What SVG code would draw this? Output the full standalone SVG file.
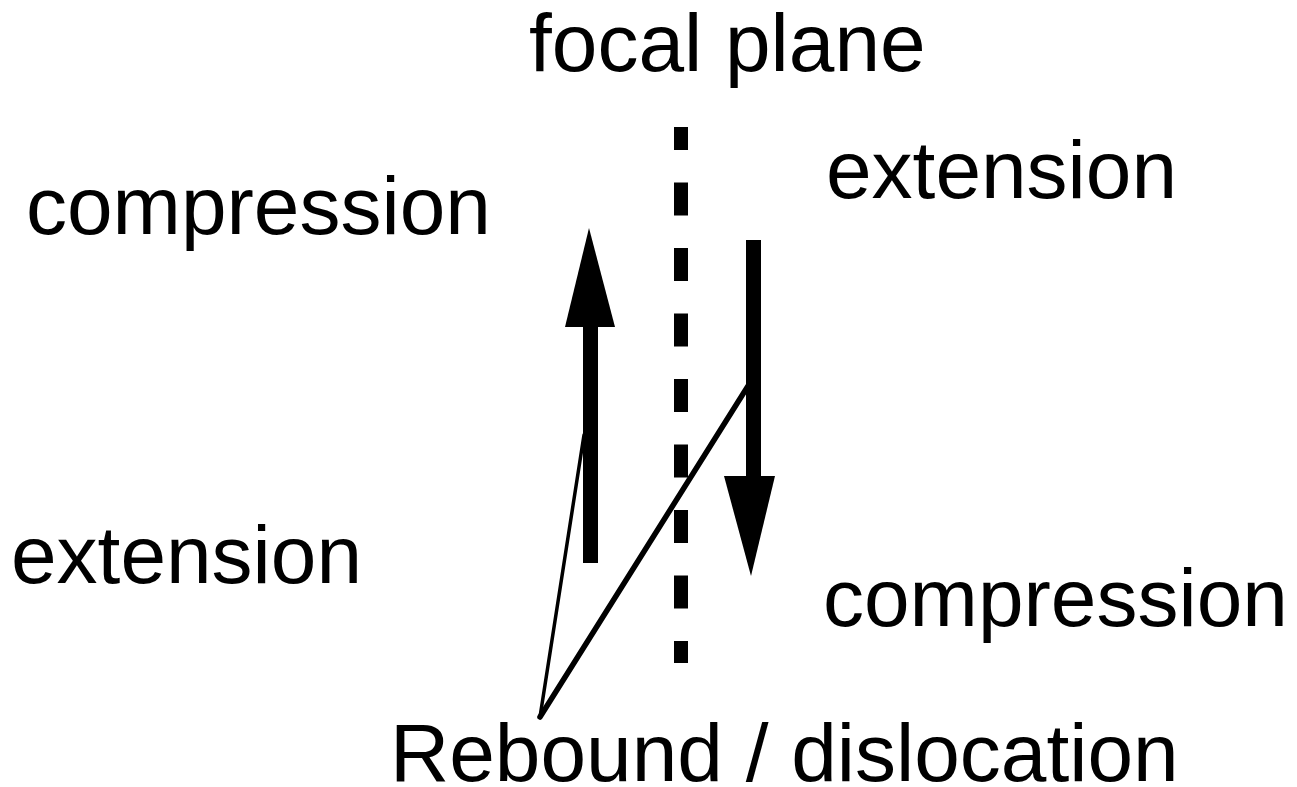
<svg xmlns="http://www.w3.org/2000/svg" width="1297" height="787" viewBox="0 0 1297 787">
<style>
.lbl{font-family:"Liberation Sans",Arial,sans-serif;font-size:82px;fill:#000}
.shaft{fill:#000}
.head{fill:#000}
.ptr{stroke:#000;fill:none;stroke-linecap:round}
</style>
<rect width="1297" height="787" fill="#fff"/>
<g id="focal-plane">
<line x1="681" y1="127" x2="681" y2="663" stroke="#000" stroke-width="14" stroke-dasharray="33 32.5" stroke-dashoffset="10"/>
<text class="lbl" x="529" y="71">focal plane</text>
</g>
<g id="up-arrow">
<rect class="shaft" x="583" y="320" width="15" height="243"/>
<polygon class="head" points="565,327 615,327 589,228"/>
</g>
<g id="down-arrow">
<rect class="shaft" x="746" y="240" width="15" height="240"/>
<polygon class="head" points="724,476 775,476 751,576"/>
</g>
<g id="label-compression-left"><text class="lbl" x="26" y="234">compression</text></g>
<g id="label-extension-right"><text class="lbl" x="826" y="198">extension</text></g>
<g id="label-extension-left"><text class="lbl" x="11" y="583">extension</text></g>
<g id="label-compression-right"><text class="lbl" x="823" y="626">compression</text></g>
<g id="label-rebound"><text class="lbl" x="390" y="781">Rebound / dislocation</text></g>
<g id="connectors">
<line class="ptr" x1="540" y1="717" x2="584" y2="435" stroke-width="3.5"/>
<line class="ptr" x1="540" y1="717" x2="748" y2="386" stroke-width="5.5"/>
</g>
</svg>
